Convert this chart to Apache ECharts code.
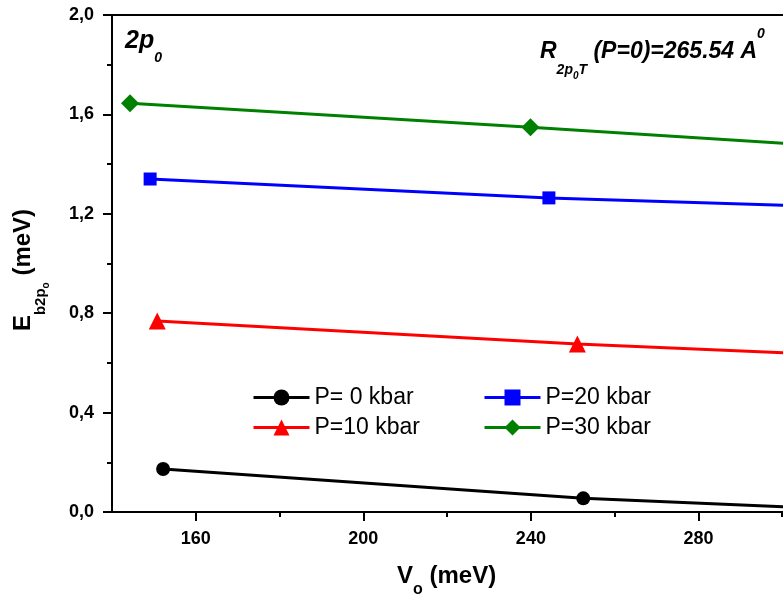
<!DOCTYPE html>
<html>
<head>
<meta charset="utf-8">
<script src="https://cdn.jsdelivr.net/npm/echarts@6/dist/echarts.min.js"></script>
<style>
  html, body { margin: 0; padding: 0; background: #fff; }
  #chart { width: 783px; height: 600px; }
</style>
</head>
<body>
<div id="chart"></div>
<script>
// Binding energy of the 2p0 state versus barrier height V0, for four pressures
const seriesNames = ['P= 0 kbar', 'P=10 kbar', 'P=20 kbar', 'P=30 kbar'];
const vo0  = [152.2, 252.5, 330];
const eb0  = [0.173, 0.055, 0.0];
const vo10 = [150.8, 251.1, 340];
const eb10 = [0.769, 0.676, 0.612];
const vo20 = [149.1, 244.3, 340];
const eb20 = [1.340, 1.264, 1.214];
const vo30 = [144.3, 239.9, 340];
const eb30 = [1.645, 1.548, 1.442];
const xMajorTicks = [160, 200, 240, 280];
const xMinorTicks = [180, 220, 260, 300];

const FONT = '"Liberation Sans", Arial, sans-serif';
const chart = echarts.init(document.getElementById('chart'), null, { renderer: 'canvas' });

function pairs(xs, ys) { return xs.map((x, i) => [x, ys[i]]); }

function lineSeries(name, xs, ys, symbol, size, color) {
  return {
    type: 'line',
    name: name,
    data: pairs(xs, ys),
    symbol: symbol,
    symbolSize: size,
    showAllSymbol: true,
    lineStyle: { color: color, width: 3 },
    itemStyle: { color: color },
    emphasis: { disabled: true },
    clip: true,
    animation: false
  };
}

const bold = { fontFamily: FONT, fontWeight: 'bold', color: '#000' };
const legendBase = {
  orient: 'vertical',
  top: 386,
  itemWidth: 56,
  itemHeight: 20,
  itemGap: 7,
  padding: 0,
  selectedMode: false,
  lineStyle: { width: 3 },
  textStyle: { fontFamily: FONT, fontSize: 23, color: '#000' }
};

function richTok(size, pad, extra) {
  return Object.assign({
    fontFamily: FONT, fontSize: size, fontWeight: 'bold', lineHeight: size,
    verticalAlign: 'top', padding: [pad, 0, 0, 0], fill: '#000', color: '#000'
  }, extra || {});
}
const ital = { fontStyle: 'italic' };

chart.setOption({
  animation: false,
  backgroundColor: '#fff',
  grid: {
    left: 112, top: 15, width: 754, height: 497,
    show: true, borderColor: '#000', borderWidth: 2,
    backgroundColor: 'transparent',
    containLabel: false, outerBoundsMode: 'none'
  },
  legend: [
    Object.assign({}, legendBase, { left: 252, data: [seriesNames[0], seriesNames[1]] }),
    Object.assign({}, legendBase, { left: 483, data: [seriesNames[2], seriesNames[3]] })
  ],
  xAxis: [
    {
      type: 'value', min: 140, max: 320, position: 'bottom',
      axisLine: { show: true, onZero: false, lineStyle: { color: '#000', width: 2 } },
      axisTick: { show: true, inside: false, length: 9, customValues: xMajorTicks,
                  lineStyle: { color: '#000', width: 2 } },
      axisLabel: Object.assign({ customValues: xMajorTicks, fontSize: 18, margin: 18 }, bold),
      splitLine: { show: false }
    },
    {
      type: 'value', min: 140, max: 320, position: 'bottom',
      axisLine: { show: false, onZero: false },
      axisTick: { show: true, inside: false, length: 5, customValues: xMinorTicks,
                  lineStyle: { color: '#000', width: 2 } },
      axisLabel: { show: false },
      splitLine: { show: false }
    }
  ],
  yAxis: {
    type: 'value', min: 0, max: 2, interval: 0.4,
    axisLine: { show: true, onZero: false, lineStyle: { color: '#000', width: 2 } },
    axisTick: { show: true, inside: false, length: 9, lineStyle: { color: '#000', width: 2 } },
    minorTick: { show: true, splitNumber: 2, length: 5, lineStyle: { color: '#000', width: 2 } },
    axisLabel: Object.assign({ fontSize: 18, margin: 18,
      formatter: v => v.toFixed(1).replace('.', ',') }, bold),
    splitLine: { show: false },
    minorSplitLine: { show: false }
  },
  series: [
    lineSeries(seriesNames[0], vo0, eb0, 'circle', 14, '#000000'),
    lineSeries(seriesNames[1], vo10, eb10, 'triangle', 17, '#ff0000'),
    lineSeries(seriesNames[2], vo20, eb20, 'rect', 13, '#0000ff'),
    lineSeries(seriesNames[3], vo30, eb30, 'diamond', 18, '#008000')
  ],
  graphic: [
    {
      type: 'text', x: 125, y: 29, silent: true,
      style: {
        text: '{m|2p}{s|0}', align: 'left', verticalAlign: 'top', fill: '#000',
        rich: { m: richTok(25, 0, ital), s: richTok(14, 22, ital) }
      }
    },
    {
      type: 'text', x: 540, y: 27, silent: true,
      style: {
        text: '{m|R}{a|2p}{b|0}{a|T}{m| (P=0)=265.54 A}{c|0}',
        align: 'left', verticalAlign: 'top', fill: '#000',
        rich: {
          m: richTok(23, 13.5, ital),
          a: richTok(14, 36, ital),
          b: richTok(10, 44, ital),
          c: richTok(14, 0, ital)
        }
      }
    },
    {
      type: 'text', x: 397, y: 561, silent: true,
      style: {
        text: '{m|V}{s|o}{m| (meV)}', align: 'left', verticalAlign: 'top', fill: '#000',
        rich: { m: richTok(24, 3.5), s: richTok(16, 21) }
      }
    },
    {
      type: 'text', x: 8, y: 270, rotation: Math.PI / 2, silent: true,
      style: {
        text: '{m|E}{a|b2p}{b|o}{m| (meV)}', align: 'center', verticalAlign: 'top', fill: '#000',
        rich: { m: richTok(24, 3), a: richTok(15, 25.5), b: richTok(10, 33.5) }
      }
    }
  ]
});
</script>
</body>
</html>
